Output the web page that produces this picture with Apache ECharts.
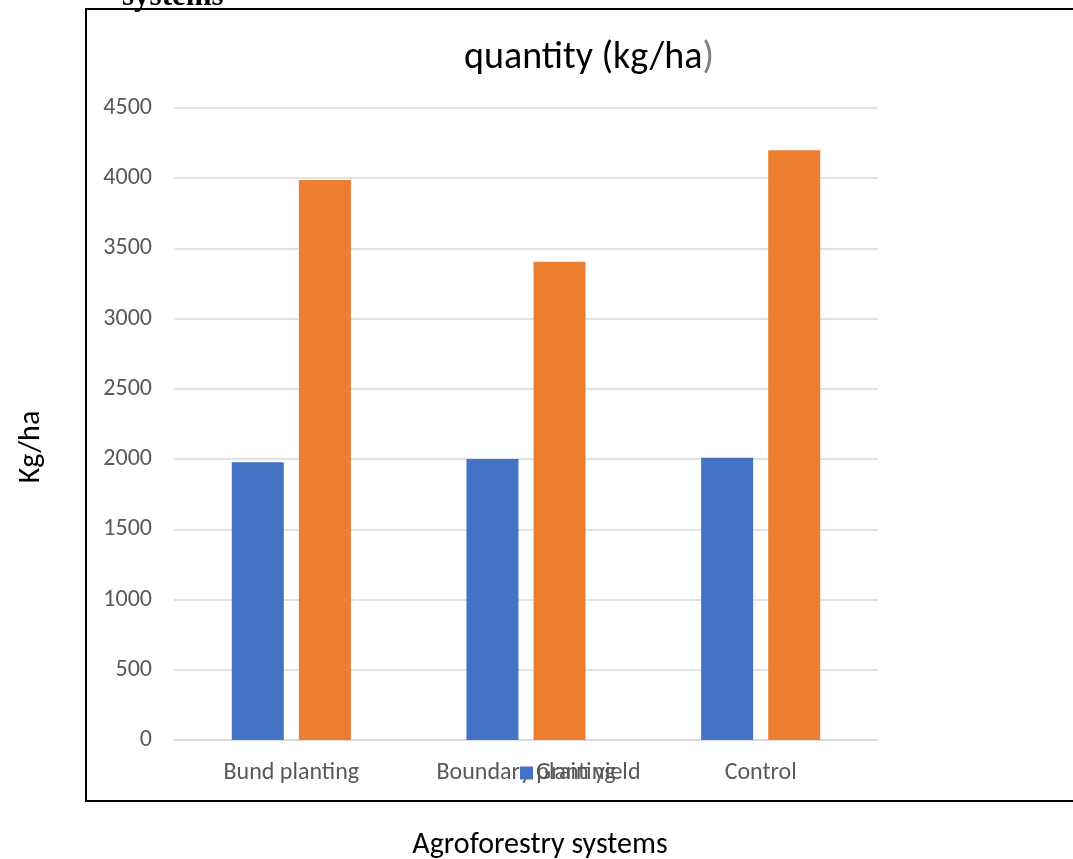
<!DOCTYPE html>
<html>
<head>
<meta charset="utf-8">
<script src="https://cdn.jsdelivr.net/npm/echarts@6/dist/echarts.min.js"></script>
<style>
html,body{margin:0;padding:0;background:#fff;}
#chart{width:1073px;height:859px;}
</style>
</head>
<body>
<div id="chart"></div>
<script>
var categories = ['Bund planting', 'Boundary planting', 'Control'];
var grainYield = [1977, 2000, 2010];
var otherYield = [3988, 3405, 4200];
var yTicks = [0, 500, 1000, 1500, 2000, 2500, 3000, 3500, 4000, 4500];

var chart = echarts.init(document.getElementById('chart'));
var font = 'Carlito, "Open Sans", "Noto Sans", sans-serif';
chart.setOption({
  animation: false,
  title: {
    text: '{a|quantity (kg/ha}{b|)}',
    left: 584, top: 34, textAlign: 'center',
    textStyle: {
      fontWeight: 'normal',
      rich: {
        a: {fontFamily: font, fontSize: 38, fontWeight: 'normal', color: '#000'},
        b: {fontFamily: font, fontSize: 38, fontWeight: 'normal', color: '#7f7f7f'}
      }
    }
  },
  legend: {
    data: ['Grain yield'],
    left: 515, top: 756,
    itemWidth: 13, itemHeight: 13, itemGap: 4,
    icon: 'rect',
    textStyle: {fontFamily: font, fontSize: 24, color: '#595959', padding: [0, 0, 0, -2]}
  },
  grid: {left: 174, right: 195, top: 108, bottom: 119, containLabel: false, outerBoundsMode: 'none'},
  xAxis: {
    type: 'category',
    data: categories,
    axisLine: {lineStyle: {color: '#d9d9d9', width: 1.5}},
    axisTick: {show: false},
    axisLabel: {fontFamily: font, fontSize: 24, color: '#595959', margin: 21},
    name: 'Agroforestry systems',
    nameLocation: 'middle',
    nameGap: 90,
    nameTextStyle: {fontFamily: font, fontSize: 30, color: '#000', padding: [0, 0, 0, 28]}
  },
  yAxis: {
    type: 'value',
    min: 0, max: 4500, interval: 500,
    axisLine: {show: false},
    axisTick: {show: false},
    splitLine: {lineStyle: {color: '#d9d9d9', width: 1.5}},
    axisLabel: {fontFamily: font, fontSize: 24, color: '#595959', margin: 22,
      formatter: function (v) { return yTicks.indexOf(v) >= 0 ? String(v) : ''; }},
    name: 'Kg/ha',
    nameLocation: 'middle',
    nameGap: 128,
    nameTextStyle: {fontFamily: font, fontSize: 30, color: '#000', padding: [0, 46, 0, 0]}
  },
  series: [
    {name: 'Grain yield', type: 'bar', data: grainYield, barWidth: 52, barGap: '29%',
     itemStyle: {color: '#4472C4'}},
    {name: 'Biomass yield', type: 'bar', data: otherYield, barWidth: 52,
     itemStyle: {color: '#ED7D31'}}
  ],
  graphic: [
    {type: 'rect', shape: {x: 86, y: 9, width: 1000, height: 792},
     style: {fill: 'none', stroke: '#000', lineWidth: 2}, silent: true},
    {type: 'text', left: 122, top: -19,
     style: {text: 'systems', font: 'bold 31px "Liberation Serif", serif', fill: '#000'}}
  ]
});
</script>
</body>
</html>
